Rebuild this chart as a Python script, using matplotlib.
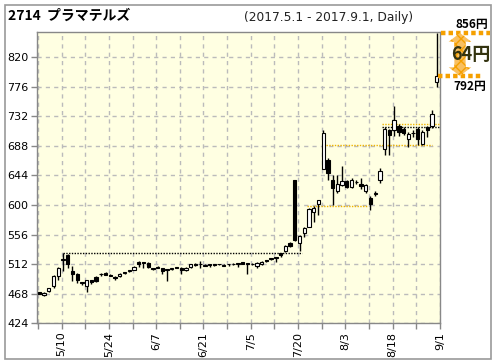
import matplotlib
matplotlib.use("Agg")
import matplotlib.pyplot as plt
import matplotlib.transforms as mtransforms
from matplotlib.patches import Polygon, Rectangle
import numpy as np

# ---------------- data ----------------
opens = [470, 466, 472, 479, 495, 519, 525, 502, 497, 485,
         479, 488, 493, 498, 499, 496, 493, 494, 499, 502,
         504, 516, 515, 514, 507, 508, 506, 505, 505, 508,
         507, 503, 508, 513, 512, 510, 513, 513, 512, 511,
         512, 513, 513, 515, 514, 513, 510, 512, 518, 520,
         523, 528, 531, 544, 637, 543, 558, 568, 589, 601,
         653, 667, 637, 621, 630, 636, 627, 634, 632, 621,
         611, 617, 637, 683, 711, 711, 717, 713, 699, 707,
         713, 691, 716, 717, 783]
highs = [471, 470, 477, 496, 508, 529, 527, 509, 499, 486,
         488, 489, 495, 499, 500, 497, 494, 499, 500, 503,
         509, 517, 516, 515, 507, 509, 507, 505, 505, 508,
         508, 508, 513, 514, 517, 512, 513, 513, 513, 512,
         512, 514, 513, 516, 514, 514, 516, 517, 518, 520,
         523, 528, 540, 545, 637, 556, 568, 595, 598, 608,
         711, 670, 645, 644, 658, 638, 641, 637, 640, 631,
         613, 621, 655, 716, 713, 747, 721, 716, 708, 711,
         716, 712, 717, 741, 856]
lows = [467, 465, 471, 477, 488, 502, 507, 487, 484, 481,
        470, 483, 485, 495, 496, 494, 489, 493, 497, 501,
        503, 508, 507, 507, 504, 506, 498, 487, 504, 506,
        498, 502, 507, 510, 507, 509, 508, 509, 511, 509,
        510, 511, 508, 512, 498, 511, 507, 511, 516, 519,
        516, 523, 530, 538, 546, 532, 553, 567, 575, 585,
        653, 637, 600, 618, 628, 625, 626, 632, 624, 618,
        592, 613, 633, 674, 674, 703, 703, 704, 686, 702,
        690, 689, 702, 715, 776]
closes = [468, 469, 476, 494, 507, 520, 512, 497, 489, 484,
          488, 485, 487, 497, 496, 495, 491, 498, 499, 502,
          508, 512, 514, 508, 505, 507, 502, 504, 505, 507,
          503, 507, 512, 511, 512, 510, 511, 511, 512, 510,
          512, 512, 513, 513, 512, 512, 514, 515, 517, 520,
          521, 526, 539, 539, 548, 554, 566, 594, 595, 607,
          707, 648, 626, 632, 636, 627, 637, 635, 628, 630,
          601, 617, 651, 713, 704, 727, 708, 707, 706, 707,
          698, 709, 711, 735, 792]

tick_labels = ["5/10", "5/24", "6/7", "6/21", "7/5", "7/20", "8/3", "8/18", "9/1"]
y_ticks = [424, 468, 512, 556, 600, 644, 688, 732, 776, 820]

# reference level lines (price, from index, to index, colour)
level_prices = [528, 598, 689, 721, 716]
level_from = [5, 56.5, 60.5, 72.5, 72.5]
level_to = [55.5, 69.5, 83, 84.7, 84.7]
level_colors = ["#000000", "#F0B400", "#F0B400", "#F0B400", "#000000"]

title_text = "2714  プラマテルズ"
period_text = "(2017.5.1 - 2017.9.1, Daily)"

# ---------------- figure ----------------
W, H = 496, 364
fig = plt.figure(figsize=(W / 100, H / 100), dpi=100)
fig.patch.set_facecolor("white")

L, R, T, B = 37, 440, 32.3, 323.4
ax = fig.add_axes([L / W, 1 - B / H, (R - L) / W, (B - T) / H])
ax.set_facecolor("#FFFFE2")

n = len(opens)
x = np.arange(n)
o = np.array(opens, float)
c = np.array(closes, float)
h = np.array(highs, float)
l = np.array(lows, float)

# grid
x_major = np.arange(len(tick_labels)) * 10 + 4.7
x_minor = np.arange(-1, 2 * len(tick_labels)) * 5 + 4.7
x_minor = x_minor[x_minor > -0.5]
ax.set_xticks(x_major)
ax.set_xticks(x_minor, minor=True)
ax.set_xticklabels(tick_labels, rotation=90, fontsize=8)
ax.set_yticks(y_ticks)
ax.set_yticklabels([str(v) for v in y_ticks], fontsize=8)
ax.grid(True, which="both", color="#BBBBBB", linestyle=(0, (3, 3)), linewidth=1)
ax.set_axisbelow(True)

# level lines
for p, a, b, col in zip(level_prices, level_from, level_to, level_colors):
    ax.hlines(p, a, b, colors=col, linestyles=(0, (1, 1)), linewidth=1, zorder=2)

# candles
ax.vlines(x, l, h, color="black", linewidth=1, zorder=3)
bottoms = np.minimum(o, c)
heights = np.maximum(np.abs(c - o), 0.8)
face = ["white" if cc >= oo else "black" for oo, cc in zip(o, c)]
ax.bar(x, heights, bottom=bottoms, width=0.7, color=face, edgecolor="black",
       linewidth=0.8, zorder=4)

ax.set_xlim(-0.5, 84.7)
ax.set_ylim(424, 857)

for s in ax.spines.values():
    s.set_color("#888888")
    s.set_linewidth(1)
ax.tick_params(which="both", direction="out", color="#888888", length=4, width=1)
ax.tick_params(axis="x", which="minor", length=4)
ax.tick_params(labelcolor="black", pad=2)

# right side range annotation
trans = mtransforms.blended_transform_factory(ax.transAxes, ax.transData)
hi = max(highs)
last = closes[-1]
orange = "#F5A000"
ax.hlines([hi, last], [1.002, 0.995], [1.125, 1.105], transform=trans,
          colors=orange, linestyles=(0, (1, 0.7)), linewidth=3.2, clip_on=False, zorder=5)
cx, hw, sw, hl = 1.0496, 0.028, 0.014, 13
poly = Polygon([(cx, hi), (cx + hw, hi - hl), (cx + sw, hi - hl), (cx + sw, last + hl),
                (cx + hw, last + hl), (cx, last), (cx - hw, last + hl), (cx - sw, last + hl),
                (cx - sw, hi - hl), (cx - hw, hi - hl)], closed=True, transform=trans,
               facecolor="#F9C060", edgecolor="#F5A000", hatch="xxx", linewidth=0,
               clip_on=False, zorder=5)
ax.add_patch(poly)
jp = ["Noto Sans CJK JP", "DejaVu Sans"]
ax.text(1.077, (hi + last) / 2, f"{hi - last}円", transform=trans, ha="center", va="center",
        fontsize=13, color="#333310", fontweight="bold", family=jp, clip_on=False, zorder=6)
ax.annotate(f"{hi}円", xy=(1.08, hi), xycoords=trans, xytext=(0, 6), textcoords="offset points",
            ha="center", va="center", fontsize=8.5, fontweight="bold", family=jp,
            annotation_clip=False)
ax.annotate(f"{last}円", xy=(1.075, last), xycoords=trans, xytext=(0, -7.5),
            textcoords="offset points", ha="center", va="center", fontsize=8.5,
            fontweight="bold", family=jp, annotation_clip=False)

# titles
fig.text(8 / W, 1 - 16 / H, title_text, ha="left", va="center", fontsize=10,
         fontweight="bold", family=jp)
fig.text(329 / W, 1 - 18 / H, period_text, ha="center", va="center", fontsize=8.8,
         color="#222222")

# outer frame
fig.patches.append(Rectangle((5 / W, 1 - 359 / H), 486 / W, 354 / H, transform=fig.transFigure,
                             fill=False, edgecolor="#999999", linewidth=1.2))

fig.savefig("out.png", dpi=100)
